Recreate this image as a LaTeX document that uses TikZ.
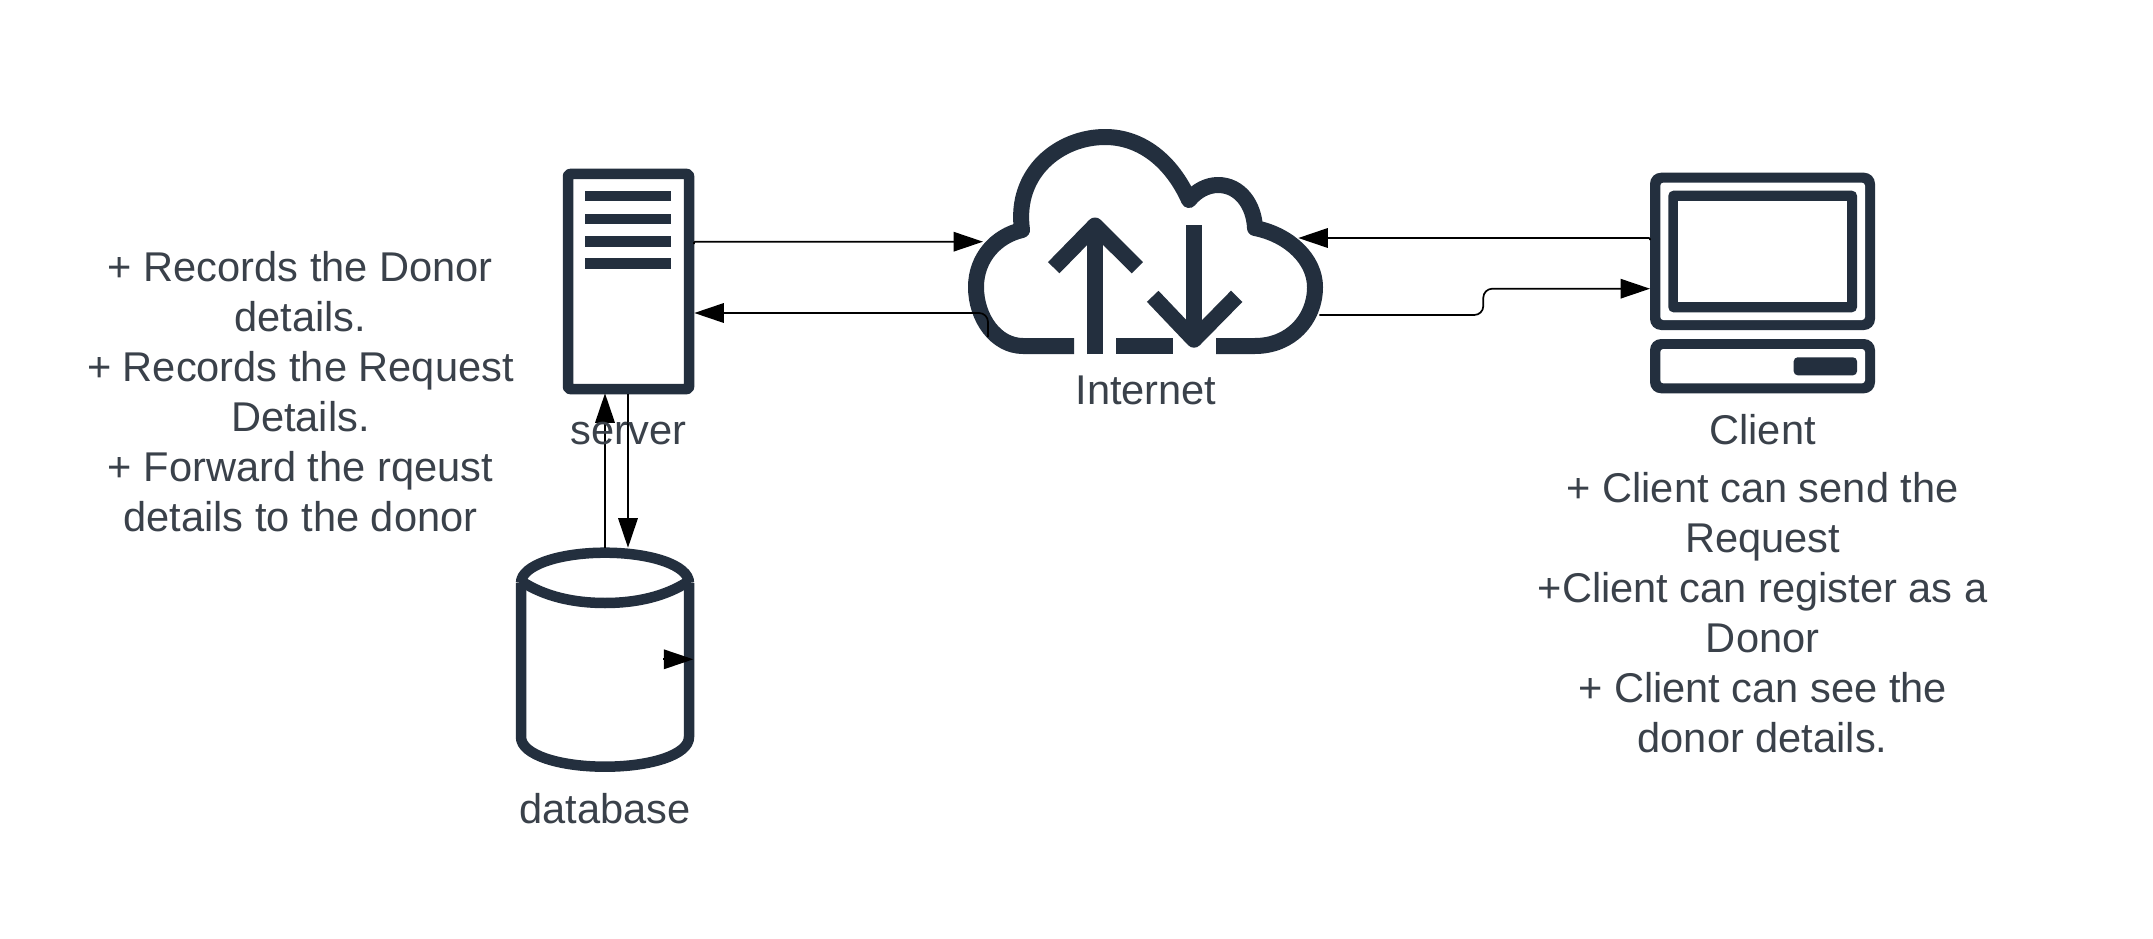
\documentclass[tikz,border=0pt]{standalone}
\usepackage{fontspec}
\setmainfont{Liberation Sans}
\usetikzlibrary{arrows.meta}
\definecolor{icon}{HTML}{232F3E}
\definecolor{txt}{HTML}{3A414A}
\tikzset{
  iconline/.style={draw=icon,line width=10.5pt,line join=round},
  cloudline/.style={draw=icon,line width=16pt,line join=round},
  conn/.style={draw=black,line width=1.7pt,-{Triangle[length=29.5pt,width=19.5pt]},rounded corners=9pt},
  jog/.style={draw=black,line width=1.7pt,-{Triangle[length=29.5pt,width=19.5pt]},rounded corners=1pt},
  label/.style={text=txt,font=\fontsize{41.6}{50}\selectfont,align=center,inner sep=0pt},
}
\begin{document}
\begin{tikzpicture}[x=1pt,y=-1pt]
\useasboundingbox (0,0) rectangle (2153,939);
\fill[white] (0,0) rectangle (2153,939);
% ports
\coordinate (srvR1) at (694,244);
\coordinate (srvJ1) at (694,241.7);
\coordinate (cldL1) at (983,241.7);
\coordinate (cldL2) at (988,337);
\coordinate (srvR2) at (694.3,313);
\coordinate (cliL1) at (1650,240);
\coordinate (cliJ1) at (1650,238);
\coordinate (cldR1) at (1298.3,238);
\coordinate (cldR2) at (1319.3,315);
\coordinate (cliL2) at (1650,288.7);
\coordinate (dbT1) at (605,548);
\coordinate (srvB1) at (605,393.3);
\coordinate (srvB2) at (628,394);
\coordinate (dbT2) at (628,547.7);
\coordinate (dbI1) at (663,659.3);
\coordinate (dbR) at (693.3,659.3);
% server icon
\draw[iconline,rounded corners=2pt] (568,174) rectangle (689,389);
\foreach \y in {191,213.7,236.3,258.3}
  \fill[icon] (585.3,\y) rectangle (671,\y+10.3);
% cloud icon
\draw[cloudline]
  (1074,346) -- (1023,346) .. controls (996,346) and (976,318) .. (976,287)
  .. controls (976,258) and (996,236) .. (1022,230)
  .. controls (1014,172) and (1060,137) .. (1105,137)
  .. controls (1142,137) and (1172,162) .. (1189,200)
  .. controls (1196,191) and (1207,185) .. (1218,185)
  .. controls (1240,185) and (1254,205) .. (1255,228)
  .. controls (1290,235) and (1315,260) .. (1315,287)
  .. controls (1315,320) and (1290,346) .. (1255,346) -- (1216,346);
\draw[cloudline] (1116,346) -- (1173,346);
\draw[cloudline] (1095,354) -- (1095,226);
\draw[cloudline] (1053.7,267.7) -- (1095,225.5) -- (1137.3,267.7);
\draw[cloudline] (1194,225) -- (1194,339);
\draw[cloudline] (1152.7,296.3) -- (1194,339.7) -- (1236.7,296.3);
% client icon
\fill[icon,rounded corners=11pt] (1650,172.7) rectangle (1875,330);
\fill[white,rounded corners=3pt] (1660.3,182.7) rectangle (1865,320);
\fill[icon,rounded corners=5pt] (1668.3,190.7) rectangle (1857,312.3);
\fill[white] (1678.3,201) rectangle (1846.7,302);
\fill[icon,rounded corners=11pt] (1650,339) rectangle (1875,393.3);
\fill[white,rounded corners=3pt] (1660.3,349) rectangle (1865,383.3);
\fill[icon,rounded corners=4pt] (1793.7,357.3) rectangle (1857,375.3);
% database icon
\draw[iconline] (521,583) .. controls (521,565) and (560,552.7) .. (605,552.7)
  .. controls (650,552.7) and (689,565) .. (689,583);
\draw[iconline] (521,581) .. controls (545,597) and (575,603) .. (605,603)
  .. controls (635,603) and (665,597) .. (689,581);
\draw[iconline] (521,583) -- (521,737) .. controls (521,755) and (560,766.7) .. (605,766.7)
  .. controls (650,766.7) and (689,755) .. (689,737) -- (689,583);
% connectors
\draw[jog] (srvR1) -- (srvJ1) -- (cldL1);
\draw[conn] (cldL2) |- (srvR2);
\draw[jog] (cliL1) -- (cliJ1) -- (cldR1);
\draw[conn] (cldR2) -- (1483.3,315) -- (1483.3,288.7) -- (cliL2);
\draw[conn] (dbT1) -- (srvB1);
\draw[conn] (srvB2) -- (dbT2);
\draw[conn] (dbI1) -- (dbR);
% labels
\node[label] (lserver) at (628.6,434) {server};
\node[label] (linternet) at (1146,390) {Internet};
\node[label] (lclient) at (1762.6,430) {Client};
\node[label] (ldb) at (605,809) {database};
\node[label] (nleft) at (300.4,392) {+ Records the Donor\\details.\\+ Records the Request\\Details.\\+ Forward the rqeust\\details to the donor};
\node[label] (nright) at (1762.6,612.6) {+ Client can send the\\Request\\+Client can register as a\\Donor\\+ Client can see the\\donor details.};
\end{tikzpicture}
\end{document}
